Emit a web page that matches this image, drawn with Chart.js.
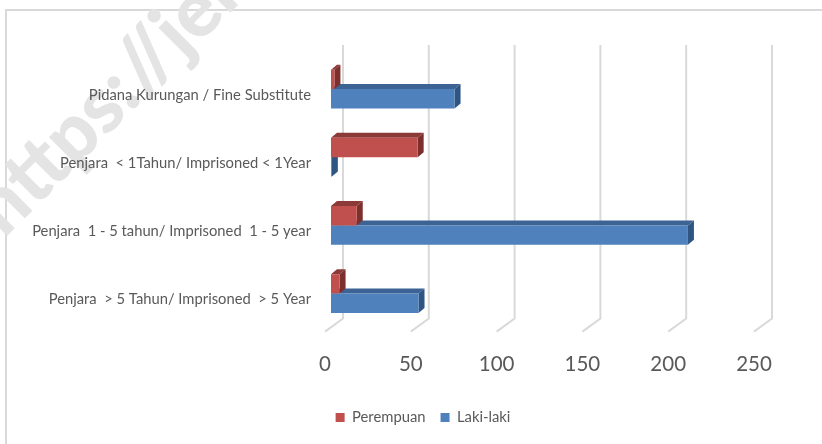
<!DOCTYPE html>
<html>
<head>
<meta charset="utf-8">
<title>Chart</title>
<script src="https://cdn.jsdelivr.net/npm/chart.js@4/dist/chart.umd.js"></script>
<style>
    html, body { margin: 0; padding: 0; background: #fff; }
    canvas { display: block; }
</style>
</head>
<body>
<canvas id="chart" width="822" height="444"></canvas>
<script>
// Chart data
const categories = [
    'Pidana Kurungan / Fine Substitute',
    'Penjara  < 1Tahun/ Imprisoned < 1Year',
    'Penjara  1 - 5 tahun/ Imprisoned  1 - 5 year',
    'Penjara  > 5 Tahun/ Imprisoned  > 5 Year'
];
const perempuan = [2, 50.5, 15, 5];
const lakiLaki = [72, 0.5, 208, 51];
const axisMax = 250;
const axisStep = 50;
const watermark = 'https://jen';

const FONT = 'Lato, "Open Sans", sans-serif';
const TEXT_COLOR = '#595959';
const GRID_COLOR = '#d9d9d9';

// Fake 3D: top and side faces of each bar, plus the wall and floor lines
const depthPlugin = {
    id: 'depth',
    beforeDraw(chart) {
        const ctx = chart.ctx;
        ctx.save();
        // frame of the original chart, only top and left are in the crop
        ctx.strokeStyle = GRID_COLOR;
        ctx.lineWidth = 2;
        ctx.beginPath();
        ctx.moveTo(6, 444);
        ctx.lineTo(6, 10);
        ctx.lineTo(822, 10);
        ctx.stroke();
        // watermark
        ctx.translate(4, 239);
        ctx.rotate(-Math.PI / 4);
        ctx.font = '900 78px ' + FONT;
        ctx.fillStyle = '#e4e4e4';
        ctx.textBaseline = 'alphabetic';
        ctx.fillText(watermark, 0, 0);
        ctx.restore();
    },
    beforeDatasetsDraw(chart) {
        const ctx = chart.ctx;
        const xScale = chart.scales.x;
        const area = chart.chartArea;
        ctx.save();
        ctx.strokeStyle = GRID_COLOR;
        ctx.lineWidth = 2;
        xScale.ticks.forEach(tick => {
            const px = xScale.getPixelForValue(tick.value);
            ctx.beginPath();
            ctx.moveTo(px + 12, area.top - 10);
            ctx.lineTo(px + 12, area.bottom - 9);
            ctx.lineTo(px - 6, area.bottom + 4);
            ctx.stroke();
        });
        // Blue first so the red side sits over the blue top
        [1, 0].forEach(index => {
            const dataset = chart.data.datasets[index];
            chart.getDatasetMeta(index).data.forEach(bar => {
                const top = bar.y - bar.height / 2;
                const bottom = bar.y + bar.height / 2;
                const dx = 6;
                const dy = 5;
                ctx.fillStyle = dataset.topColor;
                ctx.beginPath();
                ctx.moveTo(bar.base, top);
                ctx.lineTo(bar.base + dx, top - dy);
                ctx.lineTo(bar.x + dx, top - dy);
                ctx.lineTo(bar.x, top);
                ctx.closePath();
                ctx.fill();
                ctx.fillStyle = dataset.sideColor;
                ctx.beginPath();
                ctx.moveTo(bar.x, top);
                ctx.lineTo(bar.x + dx, top - dy);
                ctx.lineTo(bar.x + dx, bottom - dy);
                ctx.lineTo(bar.x, bottom);
                ctx.closePath();
                ctx.fill();
            });
        });
        ctx.restore();
    }
};

new Chart(document.getElementById('chart').getContext('2d'), {
    type: 'bar',
    data: {
        labels: categories,
        datasets: [
            {
                label: 'Perempuan',
                data: perempuan,
                backgroundColor: '#c0504d',
                topColor: '#8c3a38',
                sideColor: '#7d2f2d'
            },
            {
                label: 'Laki-laki',
                data: lakiLaki,
                backgroundColor: '#4f81bd',
                topColor: '#3c6393',
                sideColor: '#2f5583'
            }
        ]
    },
    plugins: [depthPlugin],
    options: {
        indexAxis: 'y',
        responsive: false,
        animation: false,
        categoryPercentage: 0.568,
        barPercentage: 1,
        layout: {
            padding: { left: 24, right: 0, top: 55, bottom: 9 }
        },
        scales: {
            x: {
                min: 0,
                max: axisMax,
                grid: { display: false },
                border: { display: false },
                afterFit(scale) {
                    scale.height += 3;
                },
                ticks: {
                    stepSize: axisStep,
                    color: TEXT_COLOR,
                    labelOffset: -6,
                    padding: 16,
                    font: { family: FONT, size: 20.5 }
                }
            },
            y: {
                grid: { display: false },
                border: { display: false },
                afterFit(scale) {
                    scale.width = 307;
                },
                ticks: {
                    color: TEXT_COLOR,
                    padding: 12,
                    labelOffset: 6,
                    font: { family: FONT, size: 14.75 }
                }
            },
            // empty axis that only keeps the plot clear of the right edge
            spacer: {
                type: 'linear',
                position: 'right',
                grid: { display: false },
                border: { display: false },
                ticks: { display: false },
                afterFit(scale) {
                    scale.width = 62;
                }
            }
        },
        plugins: {
            title: { display: false },
            tooltip: { enabled: false },
            legend: {
                position: 'bottom',
                labels: {
                    boxWidth: 9,
                    boxHeight: 9,
                    padding: 15,
                    color: TEXT_COLOR,
                    font: { family: FONT, size: 14.8 }
                }
            }
        }
    }
});
</script>
</body>
</html>
